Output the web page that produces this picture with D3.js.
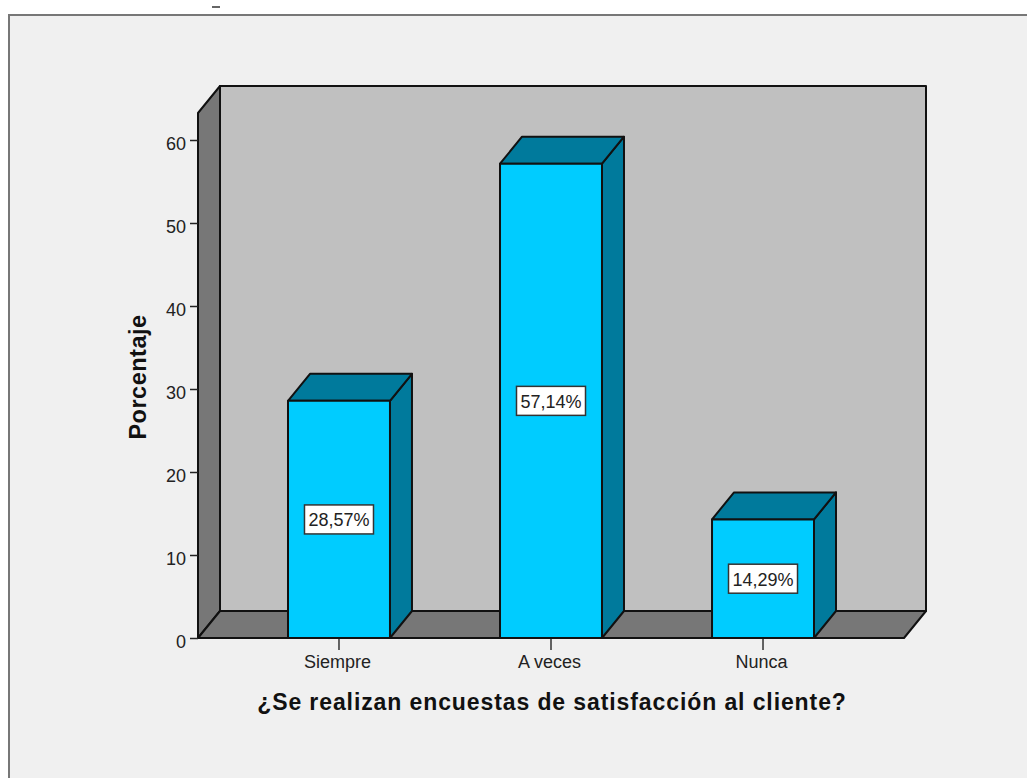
<!DOCTYPE html>
<html>
<head>
<meta charset="utf-8">
<style>
  html, body { margin: 0; padding: 0; background: #fff; }
  svg { display: block; }
  text { font-family: "Liberation Sans", Arial, sans-serif; fill: #222; }
</style>
</head>
<body>
<div class="canvas"></div>
<script src="https://cdn.jsdelivr.net/npm/d3@7"></script>
<script>
const categories = ['Siempre', 'A veces', 'Nunca'];
const values = [28.57, 57.14, 14.29];
const yTicks = [0, 10, 20, 30, 40, 50, 60];
const xTitle = '¿Se realizan encuestas de satisfacción al cliente?';
const yTitle = 'Porcentaje';

const dims = { width: 1027, height: 778 };
const plot = { left: 198, right: 904, bottom: 638, top: 113 };
const depth = { x: 22, y: -27 };

const svg = d3.select('.canvas')
    .append('svg')
    .attr('width', dims.width)
    .attr('height', dims.height);

// panel behind the chart, it runs off the right and bottom edges
svg.append('rect')
    .attr('x', 9)
    .attr('y', 15)
    .attr('width', dims.width + 20)
    .attr('height', dims.height + 20)
    .attr('fill', '#f0f0f0')
    .attr('stroke', '#777')
    .attr('stroke-width', 2);

svg.append('line')
    .attr('x1', 212).attr('x2', 220)
    .attr('y1', 7).attr('y2', 7)
    .attr('stroke', '#333')
    .attr('stroke-width', 1.5);

const x = d3.scaleBand()
    .domain(categories)
    .range([plot.left, plot.right])
    .paddingInner(0.519)
    .paddingOuter(0.4245);

const y = d3.scaleLinear()
    .domain([0, 60])
    .range([plot.bottom, 140]);

const poly = (pts) => d3.line()(pts) + 'Z';
const back = ([px, py]) => [px + depth.x, py + depth.y];

const outline = { stroke: '#111', width: 2 };

const face = (g, pts, fill) => g.append('path')
    .attr('d', poly(pts))
    .attr('fill', fill)
    .attr('stroke', outline.stroke)
    .attr('stroke-width', outline.width)
    .attr('stroke-linejoin', 'round');

// box walls
const walls = svg.append('g');
const bl = [plot.left, plot.bottom];
const br = [plot.right, plot.bottom];
const tl = [plot.left, plot.top];
const tr = [plot.right, plot.top];

face(walls, [back(tl), back(tr), back(br), back(bl)], '#c0c0c0');
face(walls, [tl, back(tl), back(bl), bl], '#777777');
face(walls, [bl, back(bl), back(br), br], '#777777');

// axes
const yAxis = d3.axisLeft(y)
    .tickValues(yTicks)
    .tickSize(8)
    .tickPadding(4);

const yAxisGroup = svg.append('g')
    .attr('transform', `translate(${plot.left}, 0)`)
    .call(yAxis);
yAxisGroup.select('.domain').remove();
yAxisGroup.selectAll('line').attr('stroke', '#222').attr('stroke-width', 1.5);
yAxisGroup.selectAll('text')
    .attr('font-size', 18)
    .attr('font-family', '"Liberation Sans", Arial, sans-serif')
    .attr('fill', '#222')
    .attr('dy', '0.5em');

const xAxis = d3.axisBottom(x)
    .tickSize(12)
    .tickPadding(5);

const xAxisGroup = svg.append('g')
    .attr('transform', `translate(0, ${plot.bottom})`)
    .call(xAxis);
xAxisGroup.select('.domain').remove();
xAxisGroup.selectAll('line').attr('stroke', '#333').attr('stroke-width', 1.5);
xAxisGroup.selectAll('text')
    .attr('font-size', 18)
    .attr('font-family', '"Liberation Sans", Arial, sans-serif')
    .attr('fill', '#222')
    .attr('dx', -1.5);

// bars
const bars = svg.selectAll('g.bar')
    .data(categories.map((name, i) => ({ name, value: values[i] })))
    .enter()
    .append('g')
    .attr('class', 'bar');

bars.each(function(d) {
    const g = d3.select(this);
    const x0 = x(d.name);
    const x1 = x0 + x.bandwidth();
    const top = y(d.value);
    const base = y(0);

    face(g, [[x1, top], back([x1, top]), back([x1, base]), [x1, base]], '#007a9c');
    face(g, [[x0, top], back([x0, top]), back([x1, top]), [x1, top]], '#007a9c');
    face(g, [[x0, top], [x1, top], [x1, base], [x0, base]], '#00ccff');
});

// value labels sit halfway up each bar
const boxSize = { width: 69, height: 29 };

const labels = bars.append('g')
    .attr('transform', d => `translate(${x(d.name) + x.bandwidth() / 2}, ${y(d.value / 2)})`);

labels.append('rect')
    .attr('x', -boxSize.width / 2)
    .attr('y', -boxSize.height / 2)
    .attr('width', boxSize.width)
    .attr('height', boxSize.height)
    .attr('fill', '#fff')
    .attr('stroke', '#333')
    .attr('stroke-width', 1.5);

labels.append('text')
    .attr('text-anchor', 'middle')
    .attr('dy', '0.38em')
    .attr('font-size', 18)
    .text(d => d.value.toFixed(2).replace('.', ',') + '%');

// axis titles
svg.append('text')
    .attr('x', 552)
    .attr('y', 710)
    .attr('text-anchor', 'middle')
    .attr('font-size', 23)
    .attr('font-weight', 'bold')
    .attr('letter-spacing', 0.9)
    .style('fill', '#111')
    .text(xTitle);

svg.append('text')
    .attr('transform', 'translate(146, 377) rotate(-90)')
    .attr('text-anchor', 'middle')
    .attr('font-size', 23.5)
    .attr('font-weight', 'bold')
    .attr('letter-spacing', 0.5)
    .style('fill', '#111')
    .text(yTitle);
</script>
</body>
</html>
